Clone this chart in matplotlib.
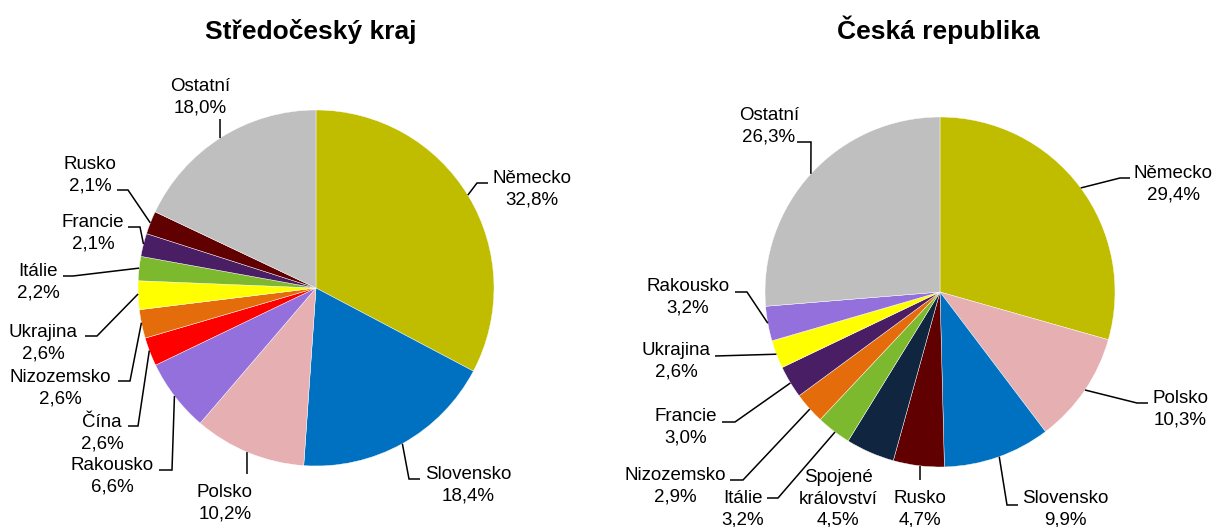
import matplotlib.pyplot as plt
import numpy as np

# Rozměry obrázku v pixelech (dpi 100)
W, H = 1214, 527

# Data - Středočeský kraj
kraj_zeme = ['Německo', 'Slovensko', 'Polsko', 'Rakousko', 'Čína', 'Nizozemsko',
             'Ukrajina', 'Itálie', 'Francie', 'Rusko', 'Ostatní']
kraj_podil = [32.8, 18.4, 10.2, 6.6, 2.6, 2.6, 2.6, 2.2, 2.1, 2.1, 18.0]

# Data - Česká republika
cr_zeme = ['Německo', 'Polsko', 'Slovensko', 'Rusko', 'Spojené\nkrálovství', 'Itálie',
           'Nizozemsko', 'Francie', 'Ukrajina', 'Rakousko', 'Ostatní']
cr_podil = [29.4, 10.3, 9.9, 4.7, 4.5, 3.2, 2.9, 3.0, 2.6, 3.2, 26.3]

barvy = {
    'Německo': '#C0BC00', 'Slovensko': '#0070C0', 'Polsko': '#E6AFB2',
    'Rakousko': '#9370DB', 'Čína': '#FF0000', 'Nizozemsko': '#E46C0A',
    'Ukrajina': '#FFFF00', 'Itálie': '#7DB92E', 'Francie': '#4A1E64',
    'Rusko': '#600000', 'Spojené\nkrálovství': '#10253F', 'Ostatní': '#BFBFBF',
}

# Pozice popisků (střed bloku textu, pixely) a vodicí čáry (první bod se promítne na okraj koláče)
kraj_popisky = {
    'Německo': ((532, 189), [(468, 195), (477, 183), (488, 183)]),
    'Slovensko': ((468, 485), [(402, 443), (409, 479), (420, 479)]),
    'Polsko': ((225, 503), [(247, 452), (247, 474)]),
    'Rakousko': ((112, 476), [(173, 397), (172, 470), (159, 470)]),
    'Čína': ((102, 433), [(148, 351), (138, 426), (128, 426)]),
    'Nizozemsko': ((60, 388), [(140, 323), (130, 381), (118, 381)]),
    'Ukrajina': ((43, 343), [(137, 294), (97, 336), (85, 336)]),
    'Itálie': ((38, 282), [(138, 268), (73, 276), (63, 276)]),
    'Francie': ((93, 233), [(143, 244), (140, 227), (128, 227)]),
    'Rusko': ((90, 175), [(148, 222), (128, 190), (117, 190)]),
    'Ostatní': ((200, 97), [(220, 138), (220, 119)]),
}
cr_popisky = {
    'Německo': ((1173, 184), [(1082, 187), (1120, 178), (1130, 178)]),
    'Polsko': ((1180, 409), [(1085, 390), (1137, 403), (1148, 403)]),
    'Slovensko': ((1065, 509), [(999, 456), (1007, 505), (1018, 505)]),
    'Rusko': ((920, 509), [(920, 466), (920, 480)]),
    'Spojené\nkrálovství': ((838, 499), []),
    'Itálie': ((743, 509), [(835, 432), (778, 498), (767, 498)]),
    'Nizozemsko': ((675, 486), [(811, 408), (743, 480), (730, 480)]),
    'Francie': ((686, 427), [(792, 382), (735, 422), (722, 422)]),
    'Ukrajina': ((676, 361), [(777, 354), (715, 356)]),
    'Rakousko': ((688, 297), [(769, 323), (747, 292), (735, 292)]),
    'Ostatní': ((769, 126), [(811, 174), (811, 142), (797, 142)]),
}

plt.rcParams['font.family'] = ['Liberation Sans', 'DejaVu Sans']

fig = plt.figure(figsize=(W / 100, H / 100), dpi=100)
ax = fig.add_axes([0, 0, 1, 1])


def kolac(zeme, podil, popisky, stred, polomer, nadpis, nadpis_pos):
    '''Nakreslí jeden koláč s popisky a vodicími čarami (souřadnice v pixelech, y dolů).'''
    cx, cy = stred
    ax.pie(podil, colors=[barvy[z] for z in zeme], startangle=90, counterclock=False,
           center=(cx, H - cy), radius=polomer, frame=True,
           wedgeprops=dict(linewidth=0.3, edgecolor='white'))
    for z, p in zip(zeme, podil):
        (tx, ty), cara = popisky[z]
        text = z + '\n' + f'{p:.1f}'.replace('.', ',') + '%'
        ax.text(tx, H - ty, text, ha='center', va='center', fontsize=13.5,
                linespacing=1.32, color='black')
        if cara:
            body = np.array(cara, dtype=float)
            # první bod na okraj koláče
            dx, dy = body[0, 0] - cx, body[0, 1] - cy
            d = np.hypot(dx, dy)
            body[0] = [cx + dx / d * polomer, cy + dy / d * polomer]
            ax.plot(body[:, 0], H - body[:, 1], color='black', lw=1.1,
                    solid_capstyle='butt', solid_joinstyle='miter')
    ax.text(nadpis_pos[0], H - nadpis_pos[1], nadpis, ha='center', va='center',
            fontsize=19, fontweight='bold')


kolac(kraj_zeme, kraj_podil, kraj_popisky, (316, 288), 178, 'Středočeský kraj', (311, 32))
kolac(cr_zeme, cr_podil, cr_popisky, (940, 292), 175, 'Česká republika', (938, 30))

ax.set_xlim(0, W)
ax.set_ylim(0, H)
ax.set_aspect('equal')
ax.axis('off')

fig.savefig('out.png', dpi=100)
plt.close(fig)
